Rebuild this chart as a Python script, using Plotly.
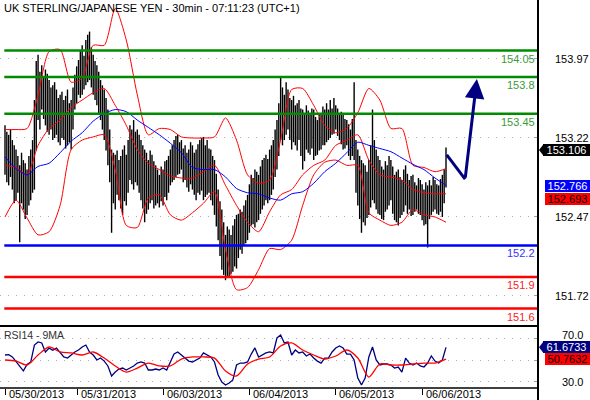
import plotly.graph_objects as go

title_text = "UK STERLING/JAPANESE YEN - 30min - 07:11:23 (UTC+1)"
rsi_title = "RSI14 - 9MA"

# ---- price bars (high / low), one per 30-min bar ----
bar_high = [153.34,153.28,153.25,153.30,153.20,153.15,153.11,153.05,152.96,153.08,
            153.01,152.98,152.92,153.05,153.11,153.20,153.58,153.95,154.01,153.85,
            153.91,153.80,153.87,153.83,153.77,153.70,153.72,153.75,153.68,153.60,
            153.63,153.66,153.58,153.62,153.68,153.55,153.58,153.70,153.82,153.90,
            153.96,154.05,154.10,154.00,154.15,154.20,154.23,154.08,154.01,153.95,
            153.91,153.85,153.77,153.72,153.68,153.60,153.49,153.30,153.11,153.08,
            153.06,153.10,153.01,153.05,153.11,153.15,153.06,153.20,153.34,153.30,
            153.39,153.28,153.30,153.25,153.20,153.15,153.11,153.08,153.01,153.10,
            153.06,153.00,152.96,152.92,152.87,152.95,152.92,153.00,153.01,153.05,
            153.11,153.15,153.20,153.24,153.25,153.18,153.20,153.12,153.15,153.08,
            153.11,153.18,153.15,153.08,153.11,153.16,153.20,153.22,153.23,153.15,
            153.20,153.12,153.11,153.05,153.01,152.88,152.73,152.62,152.54,152.42,
            152.30,152.38,152.35,152.30,152.39,152.45,152.49,152.50,152.54,152.52,
            152.58,152.63,152.68,152.78,152.87,152.84,152.92,152.90,152.87,152.95,
            153.01,153.03,153.06,153.02,153.11,153.15,153.20,153.30,153.39,153.55,
            153.79,153.70,153.63,153.75,153.68,153.60,153.58,153.62,153.53,153.55,
            153.58,153.50,153.49,153.45,153.53,153.48,153.44,153.50,153.49,153.42,
            153.39,153.45,153.44,153.52,153.49,153.55,153.49,153.58,153.50,153.60,
            153.53,153.50,153.44,153.47,153.44,153.40,153.39,153.35,153.30,153.40,
            153.75,153.20,153.11,153.05,153.01,152.98,152.96,152.90,153.01,153.15,
            153.49,153.20,153.11,153.05,153.01,152.95,152.92,153.00,152.96,153.05,
            153.01,152.95,152.87,152.90,152.92,152.85,152.82,152.92,152.96,152.88,
            152.82,152.86,152.87,152.80,152.77,152.84,152.82,152.78,152.73,152.80,
            152.77,152.82,152.77,152.85,152.82,152.78,152.77,152.83,152.87,152.92,
            153.13]
bar_low = [152.87,152.80,152.77,152.85,152.73,152.60,152.63,152.70,152.23,152.60,
           152.54,152.45,152.49,152.58,152.63,152.70,152.73,153.10,153.39,153.30,
           153.49,153.40,153.34,153.28,153.25,153.30,153.20,153.22,153.25,153.18,
           153.15,153.22,153.20,153.12,153.15,153.18,153.11,153.30,153.49,153.55,
           153.63,153.60,153.63,153.68,153.72,153.75,153.77,153.70,153.63,153.58,
           153.53,153.45,153.39,153.30,153.20,153.10,152.96,152.80,152.32,152.60,
           152.54,152.68,152.63,152.55,152.49,152.62,152.58,152.70,152.82,152.78,
           152.73,152.80,152.77,152.70,152.63,152.55,152.42,152.50,152.54,152.60,
           152.63,152.55,152.58,152.60,152.56,152.62,152.58,152.66,152.63,152.70,
           152.77,152.80,152.82,152.85,152.87,152.88,152.92,152.80,152.82,152.75,
           152.71,152.78,152.73,152.68,152.63,152.70,152.68,152.72,152.63,152.66,
           152.68,152.70,152.63,152.58,152.49,152.38,152.25,152.10,151.97,151.92,
           151.87,151.90,151.89,151.93,151.95,152.00,151.98,152.08,152.16,152.12,
           152.20,152.22,152.25,152.32,152.39,152.40,152.37,152.42,152.44,152.50,
           152.54,152.58,152.63,152.60,152.63,152.68,152.73,152.85,152.92,153.05,
           153.20,153.15,153.20,153.25,153.30,153.20,153.11,153.18,153.15,153.10,
           153.20,153.05,152.92,153.00,153.11,153.08,153.06,153.12,153.01,153.05,
           153.06,153.10,153.11,153.15,153.15,153.18,153.20,153.22,153.25,153.26,
           153.30,153.24,153.20,153.16,153.11,153.12,153.15,153.05,153.01,153.05,
           153.01,152.70,152.58,152.45,152.32,152.42,152.39,152.46,152.49,152.56,
           152.63,152.60,152.54,152.50,152.49,152.45,152.44,152.52,152.54,152.58,
           152.63,152.50,152.44,152.42,152.39,152.46,152.49,152.52,152.58,152.50,
           152.54,152.48,152.49,152.52,152.54,152.50,152.49,152.44,152.39,152.40,
           152.18,152.45,152.49,152.52,152.54,152.50,152.49,152.52,152.47,152.60,
           152.75]

# ---- indicator lines sampled every 6 bars ----
ind_x = list(range(0, 241, 6))
bb_upper = [153.30,153.30,153.31,153.63,154.04,154.06,153.75,153.79,154.10,154.10,
            154.45,154.15,153.63,153.25,153.31,153.30,153.23,153.22,153.22,153.23,
            153.41,153.20,152.87,152.79,152.82,153.20,153.68,153.69,153.53,153.34,
            153.27,153.31,153.46,153.69,153.58,153.31,153.31,152.96,152.94,152.90,
            152.93]
bb_mid = [152.96,152.94,152.87,153.15,153.31,153.39,153.51,153.58,153.65,153.69,
          153.53,153.34,153.11,152.98,152.92,152.86,152.84,152.84,152.90,152.96,
          152.77,152.58,152.42,152.33,152.52,152.68,152.73,152.87,152.96,153.01,
          153.15,153.20,153.25,153.01,152.87,152.85,152.82,152.73,152.70,152.69,
          152.69]
bb_lower = [152.47,152.63,152.46,152.30,152.33,152.58,153.11,153.20,153.23,153.25,
            152.92,152.39,152.37,152.65,152.68,152.49,152.44,152.51,152.60,152.71,
            152.16,151.78,151.80,151.97,152.17,152.16,152.25,152.58,152.87,152.99,
            153.01,152.96,152.96,152.51,152.44,152.39,152.42,152.54,152.49,152.47,
            152.42]
ma_blue = [153.04,152.93,152.87,152.95,152.98,153.08,153.19,153.27,153.38,153.45,
           153.49,153.47,153.39,153.32,153.25,153.17,153.08,152.94,152.92,152.92,
           152.85,152.74,152.70,152.69,152.65,152.63,152.69,152.71,152.79,152.90,
           152.98,153.08,153.18,153.15,153.12,153.09,153.03,152.97,152.92,152.84,
           152.77]

# ---- RSI (every 2 bars) and its 9MA (every 6 bars) ----
rsi_x = list(range(0, 241, 2))
rsi = [54.6,55.0,52.8,48.2,43.5,40.0,46.0,48.0,63.8,66.6,
       65.7,57.4,61.0,59.0,61.0,57.4,52.8,51.8,54.6,57.4,
       59.2,62.0,63.8,57.4,54.6,50.0,51.8,49.0,44.5,35.3,
       38.9,41.7,42.6,40.8,42.6,44.5,47.2,48.2,47.2,40.8,
       40.8,41.7,40.8,42.6,40.8,48.2,55.5,57.4,54.6,51.8,
       49.0,48.2,50.0,51.8,56.5,54.6,52.8,48.2,36.2,29.7,
       26.9,28.8,31.6,45.4,47.2,47.2,48.2,55.5,61.1,52.8,
       54.6,56.5,57.4,56.5,70.3,73.0,65.7,66.6,54.6,59.2,
       56.5,57.4,53.7,55.5,51.8,49.0,47.2,51.8,51.8,57.4,
       61.1,62.9,61.1,55.5,55.5,50.0,33.4,26.9,33.4,52.8,
       62.0,50.0,45.4,46.3,46.3,45.4,42.6,43.5,38.9,51.8,
       47.2,45.4,47.2,44.5,43.5,47.2,53.7,49.0,47.2,50.0,
       61.67]
rsi_ma = [50.0,49.0,45.4,54.6,62.0,57.4,56.5,54.6,57.4,51.8,
          44.5,38.9,42.6,47.2,44.5,44.5,50.9,52.8,52.8,51.8,
          39.9,35.3,46.3,50.9,52.8,62.9,65.7,59.2,54.6,50.9,
          53.7,59.2,51.8,34.3,46.3,45.4,45.4,46.3,47.2,47.2,
          50.76]

# ---- horizontal levels ----
levels_green = [154.05, 153.8, 153.45]
levels_blue = [152.2]
levels_red = [151.9, 151.6]

price_ticks = [153.97, 153.22, 152.47, 151.72]
rsi_grid = [70, 50, 30]
rsi_labels = [70.0, 30.0]

day_pos = [0, 39.2, 86.0, 132.8, 179.6, 227.0]
day_labels = ["05/30/2013", "05/31/2013", "06/03/2013", "06/04/2013", "06/05/2013", "06/06/2013"]

arrow_x = [240.4, 250.4, 256.8]
arrow_y = [153.06, 152.83, 153.78]

last_close = 153.106
last_ma = 152.766
last_mid = 152.693
last_rsi = 61.6733
last_rsi_ma = 50.7632

# ---------------------------------------------------------------
FONT = "Liberation Sans, Arial, sans-serif"
NAVY = "#000080"
GREEN = "#008c00"
RED = "#ff0000"
BLUE = "#0000ff"

X_RANGE = [-2.72, 290.06]
Y_RANGE = [151.435, 154.530]
Y2_RANGE = [24.2, 81.34]
SPLIT = 62 / 388.0

fig = go.Figure()

bx, by = [], []
for i, (h, l) in enumerate(zip(bar_high, bar_low)):
    bx += [i, i, None]
    by += [l, h, None]
fig.add_trace(go.Scatter(x=bx, y=by, mode="lines", line=dict(color="black", width=1.4),
                         hoverinfo="skip", yaxis="y"))

for series, col in [(bb_upper, RED), (bb_lower, RED), (bb_mid, RED), (ma_blue, BLUE)]:
    fig.add_trace(go.Scatter(x=ind_x, y=series, mode="lines",
                             line=dict(color=col, width=1, shape="spline", smoothing=0.7),
                             hoverinfo="skip", yaxis="y"))

# projection arrow
fig.add_trace(go.Scatter(x=arrow_x[:2], y=arrow_y[:2], mode="lines",
                         line=dict(color=NAVY, width=3), hoverinfo="skip", yaxis="y"))
fig.add_annotation(x=arrow_x[2], y=arrow_y[2], ax=arrow_x[1], ay=arrow_y[1],
                   xref="x", yref="y", axref="x", ayref="y", text="",
                   showarrow=True, arrowhead=2, arrowsize=1.3, arrowwidth=3, arrowcolor=NAVY)

# RSI panel
fig.add_trace(go.Scatter(x=rsi_x, y=rsi, mode="lines",
                         line=dict(color=NAVY, width=1.3), hoverinfo="skip", yaxis="y2"))
fig.add_trace(go.Scatter(x=ind_x, y=rsi_ma, mode="lines",
                         line=dict(color=RED, width=1.3, shape="spline", smoothing=0.8),
                         hoverinfo="skip", yaxis="y2"))

shapes = []
level_sets = [(levels_green, GREEN, "#3a9a3a"), (levels_blue, BLUE, "#3333ff"), (levels_red, RED, "#ff2020")]
annotations = []
for lv_list, col, tcol in level_sets:
    for lv in lv_list:
        shapes.append(dict(type="line", xref="paper", yref="y", x0=0.008, x1=1, y0=lv, y1=lv,
                           line=dict(color=col, width=2.5)))
        annotations.append(dict(xref="paper", yref="y", x=1, y=lv, xanchor="right", yanchor="top",
                                xshift=-1, yshift=0, text=str(lv), showarrow=False,
                                font=dict(family=FONT, size=11, color=tcol)))

# frame lines
shapes.append(dict(type="line", xref="paper", yref="paper", x0=1, x1=1, y0=-0.04, y1=1,
                   line=dict(color="black", width=2)))
shapes.append(dict(type="line", xref="paper", yref="paper", x0=0, x1=1, y0=SPLIT, y1=SPLIT,
                   line=dict(color="black", width=2)))
shapes.append(dict(type="line", xref="paper", yref="paper", x0=0, x1=1, y0=0, y1=0,
                   line=dict(color="black", width=1.5)))

# axis labels (centred on the right)
LBL_X = 572 / 538.0
for t in price_ticks:
    annotations.append(dict(xref="paper", yref="y", x=LBL_X, y=t, xanchor="center", yanchor="middle",
                            text=f"{t:.2f}", showarrow=False, borderpad=0,
                            font=dict(family=FONT, size=11, color="black")))
for t in rsi_labels:
    annotations.append(dict(xref="paper", yref="y2", x=LBL_X, y=t, xanchor="center", yanchor="middle",
                            yshift=3 if t > 50 else 0, text=f"{t:.1f}", showarrow=False, borderpad=0,
                            font=dict(family=FONT, size=11, color="black")))

# value boxes
def box(val, yref, bg, fg, text, x0px, pointer, anchor="middle"):
    annotations.append(dict(xref="paper", yref=yref, x=x0px / 538.0, y=val, xanchor="left", yanchor=anchor,
                            text=text, showarrow=False, bgcolor=bg, borderwidth=0, borderpad=0,
                            width=590 - x0px, height=11.5, align="center",
                            font=dict(family=FONT, size=11, color=fg)))
    if pointer:
        span = (Y_RANGE[1] - Y_RANGE[0]) / 326.0 if yref == "y" else (Y2_RANGE[1] - Y2_RANGE[0]) / 62.0
        d = 5.75 * span
        shapes.append(dict(type="path", xref="paper", yref=yref,
                           path=f"M {539/538.0},{val} L {543.5/538.0},{val + d} L {543.5/538.0},{val - d} Z",
                           fillcolor=bg, line=dict(width=0)))

box(last_close, "y", "black", "white", f"{last_close:.3f}", 543, True)
box(last_ma, "y", BLUE, "white", f"{last_ma:.3f}", 545, False)
box(last_mid, "y", RED, "black", f"{last_mid:.3f}", 545, False, anchor="top")
box(last_rsi, "y2", NAVY, "white", f"{last_rsi:.4f}", 543, True)
box(last_rsi_ma, "y2", RED, "black", f"{last_rsi_ma:.4f}", 545, False)

# date labels
for p, lab in zip(day_pos, day_labels):
    annotations.append(dict(xref="x", yref="paper", x=p, y=-0.0155, xanchor="left", yanchor="middle",
                            xshift=2, text=lab, showarrow=False,
                            font=dict(family=FONT, size=11, color="black")))

annotations.append(dict(xref="paper", yref="paper", x=0.004, y=(388 - 8) / 388.0, xanchor="left",
                        yanchor="middle", text=title_text, showarrow=False,
                        font=dict(family=FONT, size=11, color="black")))
annotations.append(dict(xref="paper", yref="paper", x=0.004, y=(388 - 335) / 388.0, xanchor="left",
                        yanchor="middle", text=rsi_title, showarrow=False,
                        font=dict(family=FONT, size=10.5, color="#333333")))

for a in annotations:
    fig.add_annotation(**a)

fig.update_layout(
    width=590, height=400,
    margin=dict(l=0, r=52, t=0, b=12),
    paper_bgcolor="white", plot_bgcolor="white",
    showlegend=False, hovermode=False,
    font=dict(family=FONT, size=11, color="black"),
    shapes=shapes,
    xaxis=dict(range=X_RANGE, anchor="y2", showgrid=False, zeroline=False, showline=False,
               tickvals=day_pos, ticks="outside", ticklen=6, tickwidth=1, tickcolor="black",
               showticklabels=False, fixedrange=True),
    yaxis=dict(domain=[SPLIT, 1], range=Y_RANGE, side="right", anchor="x",
               tickvals=price_ticks, showticklabels=False, ticks="inside", ticklen=4,
               tickcolor="#a0a0a0", showgrid=True, gridcolor="#b0b0b0", griddash="1px,7px",
               zeroline=False, showline=False),
    yaxis2=dict(domain=[0, SPLIT], range=Y2_RANGE, side="right", anchor="x",
                tickvals=rsi_grid, showticklabels=False, ticks="inside", ticklen=4,
                tickcolor="#a0a0a0", showgrid=True, gridcolor="#b0b0b0", griddash="1px,7px",
                zeroline=False, showline=False),
)

fig.write_html("out.html", config={"displayModeBar": False, "staticPlot": True},
               post_script="document.body.style.margin='0px';document.body.style.padding='0px';")
